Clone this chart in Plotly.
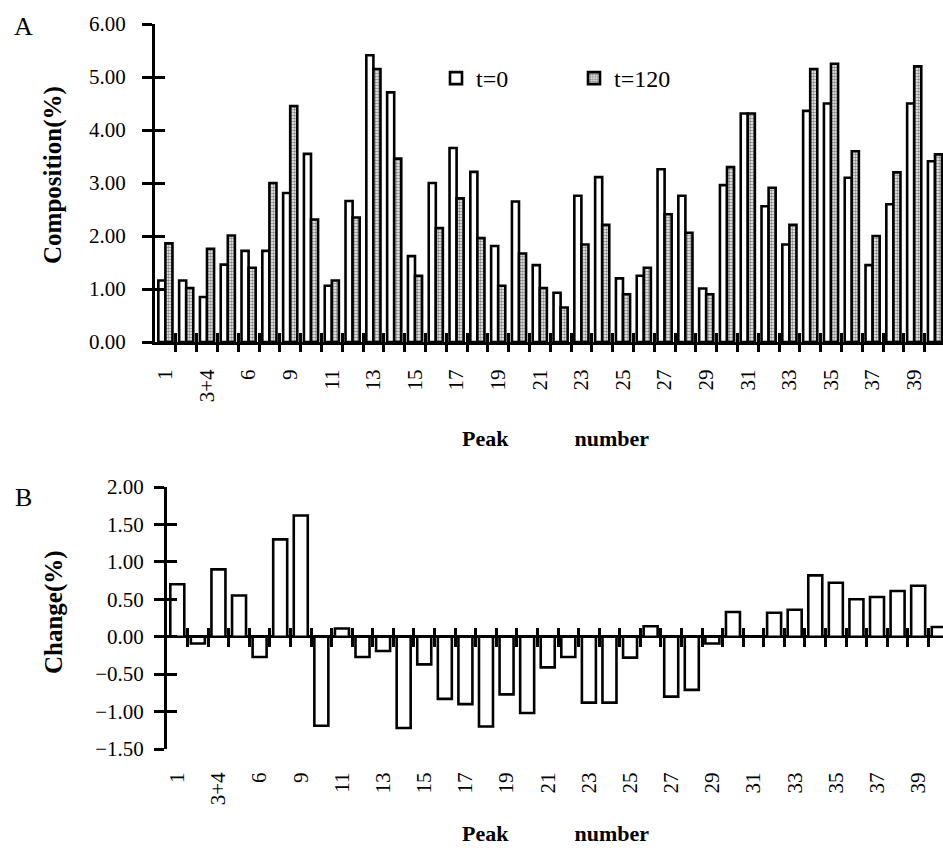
import plotly.graph_objects as go

# ---------------- data ----------------
peaks = ["1", "2", "3+4", "5", "6", "7", "9", "10", "11", "12", "13", "14", "15",
         "16", "17", "18", "19", "20", "21", "22", "23", "24", "25", "26", "27",
         "28", "29", "30", "31", "32", "33", "34", "35", "36", "37", "38", "39", "40"]
comp_t0 = [1.16, 1.16, 0.85, 1.46, 1.72, 1.72, 2.81, 3.55, 1.06, 2.66, 5.41, 4.71, 1.62,
           3.00, 3.66, 3.21, 1.81, 2.65, 1.45, 0.93, 2.76, 3.11, 1.20, 1.25, 3.26,
           2.76, 1.01, 2.96, 4.31, 2.56, 1.84, 4.36, 4.50, 3.10, 1.45, 2.60, 4.50, 3.41]
comp_t120 = [1.86, 1.02, 1.76, 2.01, 1.40, 3.00, 4.45, 2.31, 1.16, 2.35, 5.15, 3.46, 1.25,
             2.15, 2.71, 1.96, 1.06, 1.67, 1.02, 0.65, 1.84, 2.21, 0.90, 1.40, 2.41,
             2.06, 0.90, 3.30, 4.31, 2.91, 2.21, 5.15, 5.25, 3.60, 2.00, 3.20, 5.20, 3.54]
change = [0.70, -0.09, 0.90, 0.55, -0.27, 1.30, 1.62, -1.19, 0.11, -0.27, -0.19, -1.22, -0.37,
          -0.83, -0.90, -1.20, -0.77, -1.02, -0.41, -0.27, -0.88, -0.88, -0.28, 0.14, -0.80,
          -0.71, -0.09, 0.33, 0.00, 0.32, 0.36, 0.82, 0.72, 0.50, 0.53, 0.61, 0.68, 0.13]
tick_labels = peaks[::2]
yticks_a = [0, 1, 2, 3, 4, 5, 6]
yticks_b = [-1.5, -1.0, -0.5, 0.0, 0.5, 1.0, 1.5, 2.0]

# ---------------- layout geometry ----------------
W, H = 943, 850
FONT = "Liberation Serif, Times New Roman, serif"
BLACK = "black"

def fx(px):
    return px / W

def fy(px):
    return 1 - px / H

a_dom_x = [fx(155), 1]
a_dom_y = [fy(342), fy(24)]
b_dom_x = [fx(167), 1]
b_dom_y = [fy(749), fy(487)]
a_range_x = [-0.5, -0.5 + (W - 155) / 20.8]
b_range_x = [-0.5, -0.5 + (W - 167) / 20.58]
a_range_y = [0, 6]
b_range_y = [-1.5, 2.0]
boundaries = [i + 0.5 for i in range(len(peaks))]
zero_pos = b_dom_y[0] + (0 - b_range_y[0]) / (b_range_y[1] - b_range_y[0]) * (b_dom_y[1] - b_dom_y[0])

fig = go.Figure()
fig.add_trace(go.Bar(
    x=peaks, y=comp_t0, name="t=0", xaxis="x", yaxis="y",
    marker=dict(color="white", line=dict(color=BLACK, width=2.6)),
))
fig.add_trace(go.Bar(
    x=peaks, y=comp_t120, name="t=120", xaxis="x", yaxis="y",
    marker=dict(color="white", line=dict(color=BLACK, width=2.6),
                pattern=dict(shape=".", fgcolor="#111", bgcolor="white", size=3, solidity=0.6)),
))
fig.add_trace(go.Bar(
    x=peaks, y=change, name="Change", xaxis="x2", yaxis="y2", showlegend=False,
    marker=dict(color="white", line=dict(color=BLACK, width=2.6)),
))

# empty helper traces so the overlaid tick-only axes get drawn
for xa, ya in [("x3", "y"), ("x4", "y"), ("x", "y3"), ("x5", "y2"), ("x6", "y2"), ("x2", "y4")]:
    fig.add_trace(go.Scatter(x=[], y=[], xaxis=xa, yaxis=ya, showlegend=False,
                             hoverinfo="skip", mode="markers"))

tickfont = dict(family=FONT, size=21, color=BLACK)
common_ticks = dict(tickwidth=3, tickcolor=BLACK, showgrid=False, zeroline=False)

fig.update_layout(
    width=W, height=H,
    margin=dict(l=0, r=0, t=0, b=0, autoexpand=False),
    paper_bgcolor="white", plot_bgcolor="rgba(0,0,0,0)",
    barmode="group", bargap=0.32, bargroupgap=0.0,
    font=dict(family=FONT, size=20, color=BLACK),
    showlegend=True,
    legend=dict(orientation="h", x=fx(436), y=fy(56), xanchor="left", yanchor="top",
                font=dict(family=FONT, size=24, color=BLACK), bgcolor="rgba(0,0,0,0)",
                itemwidth=30, entrywidth=93, traceorder="normal"),
    # ---- panel A ----
    xaxis=dict(domain=a_dom_x, anchor="y", range=a_range_x, type="category",
               categoryorder="array", categoryarray=peaks,
               tickmode="array", tickvals=tick_labels, ticktext=tick_labels,
               tickangle=-90, ticks="outside", ticklen=16, tickcolor="rgba(0,0,0,0)",
               tickfont=tickfont, showline=True, linewidth=3, linecolor=BLACK,
               showgrid=False, zeroline=False),
    xaxis3=dict(overlaying="x", anchor="y", range=a_range_x, tickmode="array",
                tickvals=boundaries, ticks="outside", ticklen=9, showticklabels=False,
                showline=False, **common_ticks),
    xaxis4=dict(overlaying="x", anchor="y", range=a_range_x, tickmode="array",
                tickvals=boundaries, ticks="inside", ticklen=9, showticklabels=False,
                showline=False, **common_ticks),
    yaxis=dict(domain=a_dom_y, anchor="x", range=a_range_y, tickmode="array",
               tickvals=yticks_a, tickformat=".2f", ticks="outside", ticklen=10,
               ticklabelstandoff=12,
               tickfont=tickfont, showline=True, linewidth=3, linecolor=BLACK,
               **common_ticks),
    yaxis3=dict(overlaying="y", anchor="x", side="left", range=a_range_y, tickmode="array",
                tickvals=yticks_a, ticks="inside", ticklen=10, showticklabels=False,
                showline=False, **common_ticks),
    # ---- panel B ----
    xaxis2=dict(domain=b_dom_x, anchor="y2", range=b_range_x, type="category",
                categoryorder="array", categoryarray=peaks,
                tickmode="array", tickvals=tick_labels, ticktext=tick_labels,
                tickangle=-90, ticks="outside", ticklen=14, tickcolor="rgba(0,0,0,0)",
                tickfont=tickfont, showline=False, showgrid=False, zeroline=False),
    xaxis5=dict(overlaying="x2", anchor="free", position=zero_pos, side="bottom",
                range=b_range_x, tickmode="array", tickvals=boundaries, ticks="outside",
                ticklen=9, showticklabels=False, showline=False, **common_ticks),
    xaxis6=dict(overlaying="x2", anchor="free", position=zero_pos, side="top",
                range=b_range_x, tickmode="array", tickvals=boundaries, ticks="outside",
                ticklen=9, showticklabels=False, showline=False, **common_ticks),
    yaxis2=dict(domain=b_dom_y, anchor="x2", range=b_range_y, tickmode="array",
                tickvals=yticks_b, tickformat=".2f", ticks="outside", ticklen=10,
                ticklabelstandoff=6,
                tickfont=tickfont, showline=True, linewidth=3, linecolor=BLACK,
                tickwidth=3, tickcolor=BLACK, showgrid=False,
                zeroline=True, zerolinewidth=3, zerolinecolor=BLACK),
    yaxis4=dict(overlaying="y2", anchor="x2", side="left", range=b_range_y, tickmode="array",
                tickvals=yticks_b, ticks="inside", ticklen=10, showticklabels=False,
                showline=False, **common_ticks),
)

gap = "\u00a0" * 12
annots = [
    dict(text="A", x=fx(23), y=fy(26), font=dict(family=FONT, size=26, color=BLACK)),
    dict(text="B", x=fx(23), y=fy(497), font=dict(family=FONT, size=26, color=BLACK)),
    dict(text="<b>Composition(%)</b>", x=fx(53), y=fy(175), textangle=-90,
         font=dict(family=FONT, size=25, color=BLACK)),
    dict(text="<b>Change(%)</b>", x=fx(54), y=fy(612), textangle=-90,
         font=dict(family=FONT, size=25, color=BLACK)),
    dict(text="<b>Peak" + gap + "number</b>", x=fx(555), y=fy(438),
         font=dict(family=FONT, size=22, color=BLACK)),
    dict(text="<b>Peak" + gap + "number</b>", x=fx(555), y=fy(833),
         font=dict(family=FONT, size=22, color=BLACK)),
]
for a in annots:
    fig.add_annotation(xref="paper", yref="paper", showarrow=False,
                       xanchor="center", yanchor="middle", **a)

fig.write_html("out.html")
